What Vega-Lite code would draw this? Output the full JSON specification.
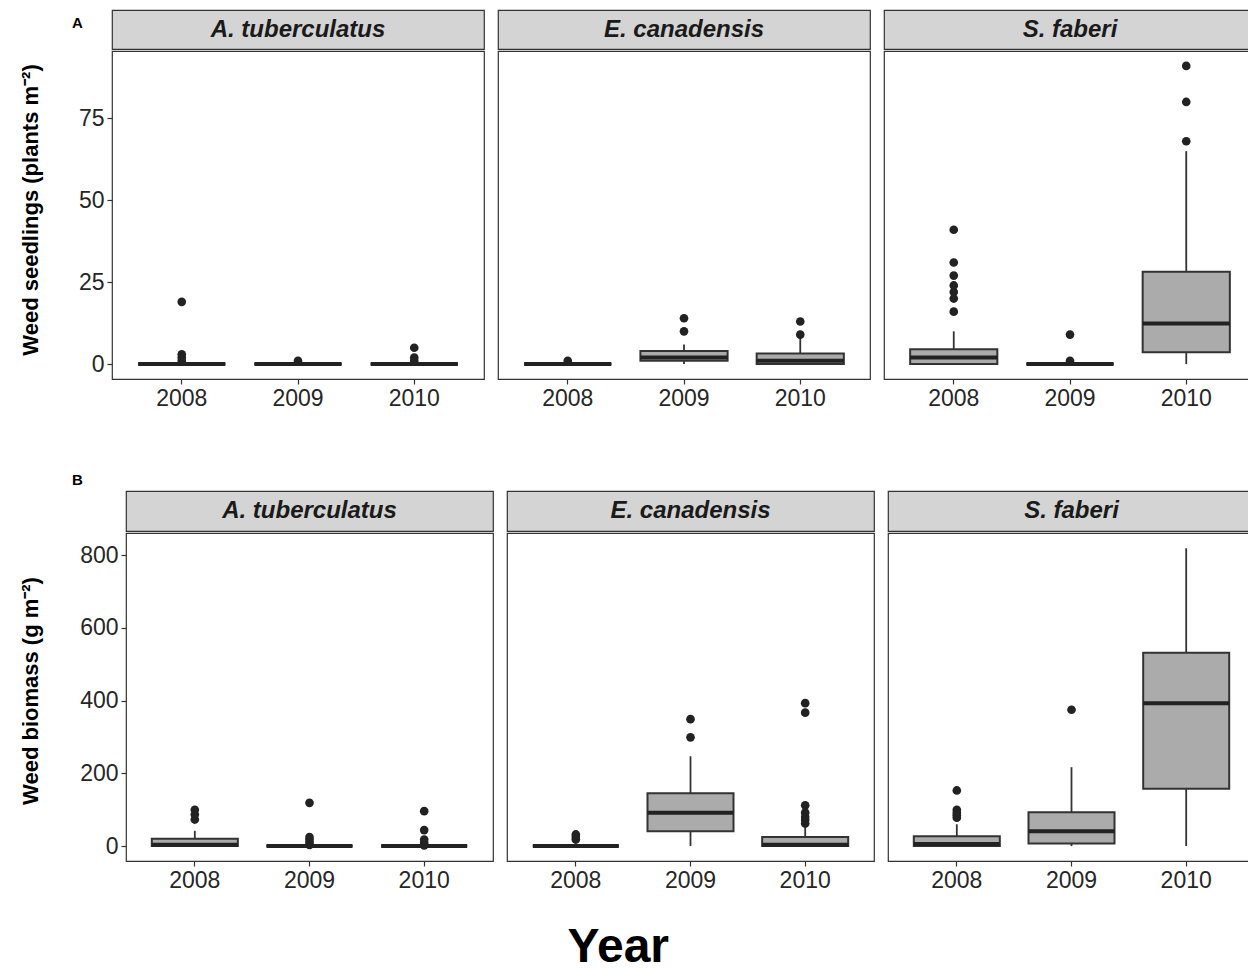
{
  "$schema": "https://vega.github.io/schema/vega-lite/v6.json",
  "padding": {"left": 0, "top": 9, "right": 0, "bottom": 0},
  "background": "white",
  "title": {"text": "Year", "orient": "bottom", "anchor": "middle", "fontSize": 48, "fontWeight": "bold", "color": "#000000", "baseline": "top", "offset": 31, "dx": -10},
  "datasets": {
    "stats": [
      {"row": "A", "species": "A. tuberculatus", "year": "2008", "lo": 0, "q1": 0, "med": 0, "q3": 0, "hi": 0},
      {"row": "A", "species": "A. tuberculatus", "year": "2009", "lo": 0, "q1": 0, "med": 0, "q3": 0, "hi": 0},
      {"row": "A", "species": "A. tuberculatus", "year": "2010", "lo": 0, "q1": 0, "med": 0, "q3": 0, "hi": 0},
      {"row": "A", "species": "E. canadensis", "year": "2008", "lo": 0, "q1": 0, "med": 0, "q3": 0, "hi": 0},
      {"row": "A", "species": "E. canadensis", "year": "2009", "lo": 0, "q1": 1, "med": 2, "q3": 4, "hi": 6},
      {"row": "A", "species": "E. canadensis", "year": "2010", "lo": 0, "q1": 0, "med": 1, "q3": 3.2, "hi": 8},
      {"row": "A", "species": "S. faberi", "year": "2008", "lo": 0, "q1": 0, "med": 2, "q3": 4.5, "hi": 10},
      {"row": "A", "species": "S. faberi", "year": "2009", "lo": 0, "q1": 0, "med": 0, "q3": 0, "hi": 0},
      {"row": "A", "species": "S. faberi", "year": "2010", "lo": 0, "q1": 3.6, "med": 12.4, "q3": 28.2, "hi": 65},
      {"row": "B", "species": "A. tuberculatus", "year": "2008", "lo": 0, "q1": 0, "med": 4, "q3": 20, "hi": 42},
      {"row": "B", "species": "A. tuberculatus", "year": "2009", "lo": 0, "q1": 0, "med": 0, "q3": 0, "hi": 0},
      {"row": "B", "species": "A. tuberculatus", "year": "2010", "lo": 0, "q1": 0, "med": 0, "q3": 0, "hi": 0},
      {"row": "B", "species": "E. canadensis", "year": "2008", "lo": 0, "q1": 0, "med": 0, "q3": 0, "hi": 0},
      {"row": "B", "species": "E. canadensis", "year": "2009", "lo": 0, "q1": 41, "med": 92, "q3": 145, "hi": 247},
      {"row": "B", "species": "E. canadensis", "year": "2010", "lo": 0, "q1": 0, "med": 4, "q3": 25, "hi": 52},
      {"row": "B", "species": "S. faberi", "year": "2008", "lo": 0, "q1": 0, "med": 6, "q3": 27, "hi": 60},
      {"row": "B", "species": "S. faberi", "year": "2009", "lo": 0, "q1": 7, "med": 41, "q3": 93, "hi": 217},
      {"row": "B", "species": "S. faberi", "year": "2010", "lo": 0, "q1": 158, "med": 393, "q3": 532, "hi": 819}
    ],
    "out": [
      {"row": "A", "species": "A. tuberculatus", "year": "2008", "value": 19},
      {"row": "A", "species": "A. tuberculatus", "year": "2008", "value": 3},
      {"row": "A", "species": "A. tuberculatus", "year": "2008", "value": 2},
      {"row": "A", "species": "A. tuberculatus", "year": "2008", "value": 1},
      {"row": "A", "species": "A. tuberculatus", "year": "2009", "value": 1},
      {"row": "A", "species": "A. tuberculatus", "year": "2010", "value": 5},
      {"row": "A", "species": "A. tuberculatus", "year": "2010", "value": 2},
      {"row": "A", "species": "A. tuberculatus", "year": "2010", "value": 1},
      {"row": "A", "species": "E. canadensis", "year": "2008", "value": 1},
      {"row": "A", "species": "E. canadensis", "year": "2009", "value": 10},
      {"row": "A", "species": "E. canadensis", "year": "2009", "value": 14},
      {"row": "A", "species": "E. canadensis", "year": "2010", "value": 9},
      {"row": "A", "species": "E. canadensis", "year": "2010", "value": 13},
      {"row": "A", "species": "S. faberi", "year": "2008", "value": 16},
      {"row": "A", "species": "S. faberi", "year": "2008", "value": 20},
      {"row": "A", "species": "S. faberi", "year": "2008", "value": 22},
      {"row": "A", "species": "S. faberi", "year": "2008", "value": 24},
      {"row": "A", "species": "S. faberi", "year": "2008", "value": 27},
      {"row": "A", "species": "S. faberi", "year": "2008", "value": 31},
      {"row": "A", "species": "S. faberi", "year": "2008", "value": 41},
      {"row": "A", "species": "S. faberi", "year": "2009", "value": 1},
      {"row": "A", "species": "S. faberi", "year": "2009", "value": 9},
      {"row": "A", "species": "S. faberi", "year": "2010", "value": 68},
      {"row": "A", "species": "S. faberi", "year": "2010", "value": 80},
      {"row": "A", "species": "S. faberi", "year": "2010", "value": 91},
      {"row": "B", "species": "A. tuberculatus", "year": "2008", "value": 73},
      {"row": "B", "species": "A. tuberculatus", "year": "2008", "value": 87},
      {"row": "B", "species": "A. tuberculatus", "year": "2008", "value": 100},
      {"row": "B", "species": "A. tuberculatus", "year": "2009", "value": 3},
      {"row": "B", "species": "A. tuberculatus", "year": "2009", "value": 10},
      {"row": "B", "species": "A. tuberculatus", "year": "2009", "value": 18},
      {"row": "B", "species": "A. tuberculatus", "year": "2009", "value": 25},
      {"row": "B", "species": "A. tuberculatus", "year": "2009", "value": 119},
      {"row": "B", "species": "A. tuberculatus", "year": "2010", "value": 2},
      {"row": "B", "species": "A. tuberculatus", "year": "2010", "value": 9},
      {"row": "B", "species": "A. tuberculatus", "year": "2010", "value": 18},
      {"row": "B", "species": "A. tuberculatus", "year": "2010", "value": 44},
      {"row": "B", "species": "A. tuberculatus", "year": "2010", "value": 96},
      {"row": "B", "species": "E. canadensis", "year": "2008", "value": 18},
      {"row": "B", "species": "E. canadensis", "year": "2008", "value": 25},
      {"row": "B", "species": "E. canadensis", "year": "2008", "value": 32},
      {"row": "B", "species": "E. canadensis", "year": "2009", "value": 299},
      {"row": "B", "species": "E. canadensis", "year": "2009", "value": 349},
      {"row": "B", "species": "E. canadensis", "year": "2010", "value": 62},
      {"row": "B", "species": "E. canadensis", "year": "2010", "value": 72},
      {"row": "B", "species": "E. canadensis", "year": "2010", "value": 80},
      {"row": "B", "species": "E. canadensis", "year": "2010", "value": 92},
      {"row": "B", "species": "E. canadensis", "year": "2010", "value": 112},
      {"row": "B", "species": "E. canadensis", "year": "2010", "value": 367},
      {"row": "B", "species": "E. canadensis", "year": "2010", "value": 393},
      {"row": "B", "species": "S. faberi", "year": "2008", "value": 78},
      {"row": "B", "species": "S. faberi", "year": "2008", "value": 85},
      {"row": "B", "species": "S. faberi", "year": "2008", "value": 92},
      {"row": "B", "species": "S. faberi", "year": "2008", "value": 100},
      {"row": "B", "species": "S. faberi", "year": "2008", "value": 153},
      {"row": "B", "species": "S. faberi", "year": "2009", "value": 375}
    ]
  },
  "spacing": 62,
  "vconcat": [
    {
      "title": {"text": "A", "anchor": "start", "frame": "bounds", "fontSize": 15, "fontWeight": "bold", "color": "#000000", "baseline": "alphabetic", "offset": -34, "dx": 72},
      "spacing": 12,
      "hconcat": [
        {"width": 61, "height": 400, "view": {"stroke": null},
         "data": {"values": [{"label": "Weed seedlings (plants m⁻²)"}]},
         "mark": {"type": "text", "angle": 270, "fontSize": 22, "fontWeight": "bold", "color": "#000000", "baseline": "middle", "align": "center"},
         "encoding": {"text": {"field": "label"}}},
        {
          "spacing": 0,
          "vconcat": [
            {"width": 372, "height": 39, "view": {"fill": "#d4d4d4", "stroke": "#333333", "strokeWidth": 1.2},
             "data": {"values": [{"species": "A. tuberculatus"}]},
             "mark": {"type": "text", "fontSize": 24, "fontWeight": "bold", "fontStyle": "italic", "color": "#1a1a1a", "baseline": "middle", "align": "center"},
             "encoding": {"text": {"field": "species"}}},
            {"width": 372, "height": 328,
             "encoding": {"x": {"field": "year", "type": "nominal", "scale": {"type": "band", "domain": ["2008", "2009", "2010"], "paddingInner": 0.25, "paddingOuter": 0.225}, "axis": {"title": null}}},
             "layer": [
               {"data": {"name": "stats"}, "transform": [{"filter": "datum.row == 'A' && datum.species == 'A. tuberculatus'"}],
                "mark": {"type": "rule", "color": "#333333", "strokeWidth": 1.8},
                "encoding": {"y": {"field": "lo", "type": "quantitative", "scale": {"domain": [-4.55, 95.55], "nice": false, "zero": false}, "axis": {"title": null, "values": [0, 25, 50, 75], "minExtent": 38, "maxExtent": 38}}, "y2": {"field": "hi"}}},
               {"data": {"name": "stats"}, "transform": [{"filter": "datum.row == 'A' && datum.species == 'A. tuberculatus'"}],
                "mark": {"type": "bar", "fill": "#ababab", "stroke": "#333333", "strokeWidth": 2},
                "encoding": {"y": {"field": "q1", "type": "quantitative", "scale": {"domain": [-4.55, 95.55], "nice": false, "zero": false}, "axis": {"title": null, "values": [0, 25, 50, 75], "minExtent": 38, "maxExtent": 38}}, "y2": {"field": "q3"}}},
               {"data": {"name": "stats"}, "transform": [{"filter": "datum.row == 'A' && datum.species == 'A. tuberculatus'"}],
                "mark": {"type": "bar", "fill": "#222222", "stroke": "#222222", "strokeWidth": 4},
                "encoding": {"y": {"field": "med", "type": "quantitative", "scale": {"domain": [-4.55, 95.55], "nice": false, "zero": false}, "axis": {"title": null, "values": [0, 25, 50, 75], "minExtent": 38, "maxExtent": 38}}, "y2": {"field": "med"}}},
               {"data": {"name": "out"}, "transform": [{"filter": "datum.row == 'A' && datum.species == 'A. tuberculatus'"}],
                "mark": {"type": "circle", "color": "#222222", "size": 75, "opacity": 1},
                "encoding": {"y": {"field": "value", "type": "quantitative", "scale": {"domain": [-4.55, 95.55], "nice": false, "zero": false}, "axis": {"title": null, "values": [0, 25, 50, 75], "minExtent": 38, "maxExtent": 38}}}}
             ]}
          ]
        },
        {
          "spacing": 0,
          "vconcat": [
            {"width": 372, "height": 39, "view": {"fill": "#d4d4d4", "stroke": "#333333", "strokeWidth": 1.2},
             "data": {"values": [{"species": "E. canadensis"}]},
             "mark": {"type": "text", "fontSize": 24, "fontWeight": "bold", "fontStyle": "italic", "color": "#1a1a1a", "baseline": "middle", "align": "center"},
             "encoding": {"text": {"field": "species"}}},
            {"width": 372, "height": 328,
             "encoding": {"x": {"field": "year", "type": "nominal", "scale": {"type": "band", "domain": ["2008", "2009", "2010"], "paddingInner": 0.25, "paddingOuter": 0.225}, "axis": {"title": null}}},
             "layer": [
               {"data": {"name": "stats"}, "transform": [{"filter": "datum.row == 'A' && datum.species == 'E. canadensis'"}],
                "mark": {"type": "rule", "color": "#333333", "strokeWidth": 1.8},
                "encoding": {"y": {"field": "lo", "type": "quantitative", "scale": {"domain": [-4.55, 95.55], "nice": false, "zero": false}, "axis": null}, "y2": {"field": "hi"}}},
               {"data": {"name": "stats"}, "transform": [{"filter": "datum.row == 'A' && datum.species == 'E. canadensis'"}],
                "mark": {"type": "bar", "fill": "#ababab", "stroke": "#333333", "strokeWidth": 2},
                "encoding": {"y": {"field": "q1", "type": "quantitative", "scale": {"domain": [-4.55, 95.55], "nice": false, "zero": false}, "axis": null}, "y2": {"field": "q3"}}},
               {"data": {"name": "stats"}, "transform": [{"filter": "datum.row == 'A' && datum.species == 'E. canadensis'"}],
                "mark": {"type": "bar", "fill": "#222222", "stroke": "#222222", "strokeWidth": 4},
                "encoding": {"y": {"field": "med", "type": "quantitative", "scale": {"domain": [-4.55, 95.55], "nice": false, "zero": false}, "axis": null}, "y2": {"field": "med"}}},
               {"data": {"name": "out"}, "transform": [{"filter": "datum.row == 'A' && datum.species == 'E. canadensis'"}],
                "mark": {"type": "circle", "color": "#222222", "size": 75, "opacity": 1},
                "encoding": {"y": {"field": "value", "type": "quantitative", "scale": {"domain": [-4.55, 95.55], "nice": false, "zero": false}, "axis": null}}}
             ]}
          ]
        },
        {
          "spacing": 0,
          "vconcat": [
            {"width": 372, "height": 39, "view": {"fill": "#d4d4d4", "stroke": "#333333", "strokeWidth": 1.2},
             "data": {"values": [{"species": "S. faberi"}]},
             "mark": {"type": "text", "fontSize": 24, "fontWeight": "bold", "fontStyle": "italic", "color": "#1a1a1a", "baseline": "middle", "align": "center"},
             "encoding": {"text": {"field": "species"}}},
            {"width": 372, "height": 328,
             "encoding": {"x": {"field": "year", "type": "nominal", "scale": {"type": "band", "domain": ["2008", "2009", "2010"], "paddingInner": 0.25, "paddingOuter": 0.225}, "axis": {"title": null}}},
             "layer": [
               {"data": {"name": "stats"}, "transform": [{"filter": "datum.row == 'A' && datum.species == 'S. faberi'"}],
                "mark": {"type": "rule", "color": "#333333", "strokeWidth": 1.8},
                "encoding": {"y": {"field": "lo", "type": "quantitative", "scale": {"domain": [-4.55, 95.55], "nice": false, "zero": false}, "axis": null}, "y2": {"field": "hi"}}},
               {"data": {"name": "stats"}, "transform": [{"filter": "datum.row == 'A' && datum.species == 'S. faberi'"}],
                "mark": {"type": "bar", "fill": "#ababab", "stroke": "#333333", "strokeWidth": 2},
                "encoding": {"y": {"field": "q1", "type": "quantitative", "scale": {"domain": [-4.55, 95.55], "nice": false, "zero": false}, "axis": null}, "y2": {"field": "q3"}}},
               {"data": {"name": "stats"}, "transform": [{"filter": "datum.row == 'A' && datum.species == 'S. faberi'"}],
                "mark": {"type": "bar", "fill": "#222222", "stroke": "#222222", "strokeWidth": 4},
                "encoding": {"y": {"field": "med", "type": "quantitative", "scale": {"domain": [-4.55, 95.55], "nice": false, "zero": false}, "axis": null}, "y2": {"field": "med"}}},
               {"data": {"name": "out"}, "transform": [{"filter": "datum.row == 'A' && datum.species == 'S. faberi'"}],
                "mark": {"type": "circle", "color": "#222222", "size": 75, "opacity": 1},
                "encoding": {"y": {"field": "value", "type": "quantitative", "scale": {"domain": [-4.55, 95.55], "nice": false, "zero": false}, "axis": null}}}
             ]}
          ]
        }
      ]
    },
    {
      "title": {"text": "B", "anchor": "start", "frame": "bounds", "fontSize": 15, "fontWeight": "bold", "color": "#000000", "baseline": "alphabetic", "offset": -10, "dx": 72},
      "spacing": 12,
      "hconcat": [
        {"width": 61, "height": 400, "view": {"stroke": null},
         "data": {"values": [{"label": "Weed biomass (g m⁻²)"}]},
         "mark": {"type": "text", "angle": 270, "fontSize": 22, "fontWeight": "bold", "color": "#000000", "baseline": "middle", "align": "center"},
         "encoding": {"text": {"field": "label"}}},
        {
          "spacing": 0,
          "vconcat": [
            {"width": 367, "height": 40, "view": {"fill": "#d4d4d4", "stroke": "#333333", "strokeWidth": 1.2},
             "data": {"values": [{"species": "A. tuberculatus"}]},
             "mark": {"type": "text", "fontSize": 24, "fontWeight": "bold", "fontStyle": "italic", "color": "#1a1a1a", "baseline": "middle", "align": "center"},
             "encoding": {"text": {"field": "species"}}},
            {"width": 367, "height": 328,
             "encoding": {"x": {"field": "year", "type": "nominal", "scale": {"type": "band", "domain": ["2008", "2009", "2010"], "paddingInner": 0.25, "paddingOuter": 0.225}, "axis": {"title": null}}},
             "layer": [
               {"data": {"name": "stats"}, "transform": [{"filter": "datum.row == 'B' && datum.species == 'A. tuberculatus'"}],
                "mark": {"type": "rule", "color": "#333333", "strokeWidth": 1.8},
                "encoding": {"y": {"field": "lo", "type": "quantitative", "scale": {"domain": [-41, 861], "nice": false, "zero": false}, "axis": {"title": null, "values": [0, 200, 400, 600, 800], "minExtent": 52, "maxExtent": 52}}, "y2": {"field": "hi"}}},
               {"data": {"name": "stats"}, "transform": [{"filter": "datum.row == 'B' && datum.species == 'A. tuberculatus'"}],
                "mark": {"type": "bar", "fill": "#ababab", "stroke": "#333333", "strokeWidth": 2},
                "encoding": {"y": {"field": "q1", "type": "quantitative", "scale": {"domain": [-41, 861], "nice": false, "zero": false}, "axis": {"title": null, "values": [0, 200, 400, 600, 800], "minExtent": 52, "maxExtent": 52}}, "y2": {"field": "q3"}}},
               {"data": {"name": "stats"}, "transform": [{"filter": "datum.row == 'B' && datum.species == 'A. tuberculatus'"}],
                "mark": {"type": "bar", "fill": "#222222", "stroke": "#222222", "strokeWidth": 4},
                "encoding": {"y": {"field": "med", "type": "quantitative", "scale": {"domain": [-41, 861], "nice": false, "zero": false}, "axis": {"title": null, "values": [0, 200, 400, 600, 800], "minExtent": 52, "maxExtent": 52}}, "y2": {"field": "med"}}},
               {"data": {"name": "out"}, "transform": [{"filter": "datum.row == 'B' && datum.species == 'A. tuberculatus'"}],
                "mark": {"type": "circle", "color": "#222222", "size": 75, "opacity": 1},
                "encoding": {"y": {"field": "value", "type": "quantitative", "scale": {"domain": [-41, 861], "nice": false, "zero": false}, "axis": {"title": null, "values": [0, 200, 400, 600, 800], "minExtent": 52, "maxExtent": 52}}}}
             ]}
          ]
        },
        {
          "spacing": 0,
          "vconcat": [
            {"width": 367, "height": 40, "view": {"fill": "#d4d4d4", "stroke": "#333333", "strokeWidth": 1.2},
             "data": {"values": [{"species": "E. canadensis"}]},
             "mark": {"type": "text", "fontSize": 24, "fontWeight": "bold", "fontStyle": "italic", "color": "#1a1a1a", "baseline": "middle", "align": "center"},
             "encoding": {"text": {"field": "species"}}},
            {"width": 367, "height": 328,
             "encoding": {"x": {"field": "year", "type": "nominal", "scale": {"type": "band", "domain": ["2008", "2009", "2010"], "paddingInner": 0.25, "paddingOuter": 0.225}, "axis": {"title": null}}},
             "layer": [
               {"data": {"name": "stats"}, "transform": [{"filter": "datum.row == 'B' && datum.species == 'E. canadensis'"}],
                "mark": {"type": "rule", "color": "#333333", "strokeWidth": 1.8},
                "encoding": {"y": {"field": "lo", "type": "quantitative", "scale": {"domain": [-41, 861], "nice": false, "zero": false}, "axis": null}, "y2": {"field": "hi"}}},
               {"data": {"name": "stats"}, "transform": [{"filter": "datum.row == 'B' && datum.species == 'E. canadensis'"}],
                "mark": {"type": "bar", "fill": "#ababab", "stroke": "#333333", "strokeWidth": 2},
                "encoding": {"y": {"field": "q1", "type": "quantitative", "scale": {"domain": [-41, 861], "nice": false, "zero": false}, "axis": null}, "y2": {"field": "q3"}}},
               {"data": {"name": "stats"}, "transform": [{"filter": "datum.row == 'B' && datum.species == 'E. canadensis'"}],
                "mark": {"type": "bar", "fill": "#222222", "stroke": "#222222", "strokeWidth": 4},
                "encoding": {"y": {"field": "med", "type": "quantitative", "scale": {"domain": [-41, 861], "nice": false, "zero": false}, "axis": null}, "y2": {"field": "med"}}},
               {"data": {"name": "out"}, "transform": [{"filter": "datum.row == 'B' && datum.species == 'E. canadensis'"}],
                "mark": {"type": "circle", "color": "#222222", "size": 75, "opacity": 1},
                "encoding": {"y": {"field": "value", "type": "quantitative", "scale": {"domain": [-41, 861], "nice": false, "zero": false}, "axis": null}}}
             ]}
          ]
        },
        {
          "spacing": 0,
          "vconcat": [
            {"width": 367, "height": 40, "view": {"fill": "#d4d4d4", "stroke": "#333333", "strokeWidth": 1.2},
             "data": {"values": [{"species": "S. faberi"}]},
             "mark": {"type": "text", "fontSize": 24, "fontWeight": "bold", "fontStyle": "italic", "color": "#1a1a1a", "baseline": "middle", "align": "center"},
             "encoding": {"text": {"field": "species"}}},
            {"width": 367, "height": 328,
             "encoding": {"x": {"field": "year", "type": "nominal", "scale": {"type": "band", "domain": ["2008", "2009", "2010"], "paddingInner": 0.25, "paddingOuter": 0.225}, "axis": {"title": null}}},
             "layer": [
               {"data": {"name": "stats"}, "transform": [{"filter": "datum.row == 'B' && datum.species == 'S. faberi'"}],
                "mark": {"type": "rule", "color": "#333333", "strokeWidth": 1.8},
                "encoding": {"y": {"field": "lo", "type": "quantitative", "scale": {"domain": [-41, 861], "nice": false, "zero": false}, "axis": null}, "y2": {"field": "hi"}}},
               {"data": {"name": "stats"}, "transform": [{"filter": "datum.row == 'B' && datum.species == 'S. faberi'"}],
                "mark": {"type": "bar", "fill": "#ababab", "stroke": "#333333", "strokeWidth": 2},
                "encoding": {"y": {"field": "q1", "type": "quantitative", "scale": {"domain": [-41, 861], "nice": false, "zero": false}, "axis": null}, "y2": {"field": "q3"}}},
               {"data": {"name": "stats"}, "transform": [{"filter": "datum.row == 'B' && datum.species == 'S. faberi'"}],
                "mark": {"type": "bar", "fill": "#222222", "stroke": "#222222", "strokeWidth": 4},
                "encoding": {"y": {"field": "med", "type": "quantitative", "scale": {"domain": [-41, 861], "nice": false, "zero": false}, "axis": null}, "y2": {"field": "med"}}},
               {"data": {"name": "out"}, "transform": [{"filter": "datum.row == 'B' && datum.species == 'S. faberi'"}],
                "mark": {"type": "circle", "color": "#222222", "size": 75, "opacity": 1},
                "encoding": {"y": {"field": "value", "type": "quantitative", "scale": {"domain": [-41, 861], "nice": false, "zero": false}, "axis": null}}}
             ]}
          ]
        }
      ]
    }
  ],
  "config": {
    "font": "Liberation Sans",
    "view": {"stroke": "#333333", "strokeWidth": 1.2},
    "axisX": {"labelFontSize": 23, "labelColor": "#262626", "labelAngle": 0, "labelPadding": 3, "tickSize": 5, "tickColor": "#333333", "tickWidth": 1.2, "domain": false, "grid": false},
    "axisY": {"labelFontSize": 23, "labelColor": "#262626", "labelPadding": 3, "tickSize": 5, "tickColor": "#333333", "tickWidth": 1.2, "domain": false, "grid": false}
  }
}
